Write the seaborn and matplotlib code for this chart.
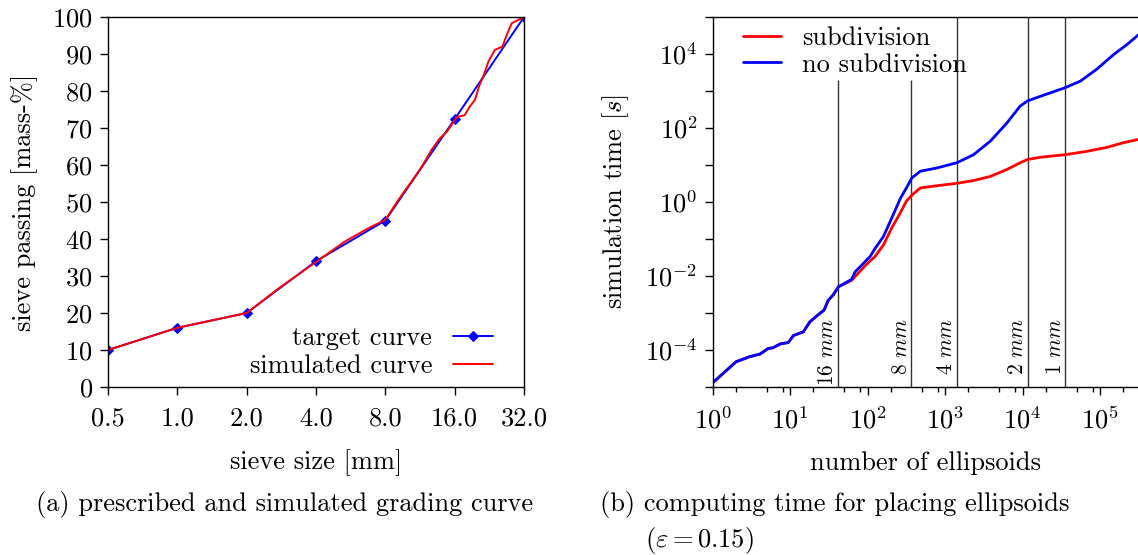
import numpy as np
import pandas as pd
import seaborn as sns
import matplotlib.pyplot as plt
from matplotlib.ticker import FixedLocator, FuncFormatter, LogLocator, NullFormatter

# Grading curve (left panel)
sieve_size = [0.5, 1.0, 2.0, 4.0, 8.0, 16.0, 32.0]
target_passing = [10, 16, 20, 34, 45, 72.4, 100]

sim_size = [0.5, 1.0, 2.0, 2.8, 4.0, 5.3, 6.7, 8.0, 8.9, 9.7, 10.5, 11.5, 12.7,
            13.8, 14.8, 15.5, 16.3, 17.7, 18.6, 19.6, 20.4, 21.4, 22.4, 23.9,
            25.8, 26.9, 28.3, 31.7, 32.0]
sim_passing = [10, 16, 20, 27, 33.8, 39.2, 42.8, 45.2, 49.6, 53, 55.9, 59.5, 64.1,
               67.2, 69.0, 70.8, 72.9, 73.5, 75.8, 77.6, 81.2, 84.3, 87.9, 91.1,
               92.0, 95.1, 98.3, 99.9, 100]

# Computing time (right panel)
n_nosub = [1, 2, 3, 4.1, 5.2, 6, 7.4, 9.5, 11, 14.8, 18, 22, 27.4, 31, 36, 42,
           62, 69, 93, 108, 125, 160, 205, 265, 320, 373, 480, 780, 1420, 2330,
           3830, 6300, 9300, 11600, 17000, 35500, 56000, 91000, 151000, 224000,
           310000]
t_nosub = [1.3e-5, 4.8e-5, 6.6e-5, 7.8e-5, 1.1e-4, 1.15e-4, 1.45e-4, 1.6e-4,
           2.45e-4, 3.1e-4, 5.8e-4, 8.3e-4, 1.2e-3, 2.2e-3, 3.1e-3, 5.1e-3,
           8.1e-3, 1.3e-2, 2.45e-2, 3.4e-2, 5.6e-2, 0.117, 0.37, 1.26, 2.5, 4.5,
           6.8, 8.3, 11.5, 19, 44, 138, 390, 540, 720, 1230, 1860, 3900, 9800,
           18200, 32400]

n_sub = [1, 2, 3, 4.1, 5.2, 6, 7.4, 9.5, 11, 14.8, 18, 22, 27.4, 31, 36, 42,
         62, 93, 125, 160, 205, 257, 316, 380, 480, 780, 1420, 2330, 3830, 6300,
         9300, 11600, 17000, 35500, 67600, 123000, 200000, 310000]
t_sub = [1.3e-5, 4.8e-5, 6.6e-5, 7.8e-5, 1.1e-4, 1.15e-4, 1.45e-4, 1.6e-4,
         2.45e-4, 3.1e-4, 5.8e-4, 8.3e-4, 1.2e-3, 2.2e-3, 3.1e-3, 5.1e-3,
         7.6e-3, 1.9e-2, 3.4e-2, 6.9e-2, 0.2, 0.46, 1.05, 1.6, 2.4, 2.75, 3.2,
         3.8, 4.9, 7.6, 11.5, 14.1, 16.2, 19, 23.4, 30, 40, 49]

# sieve sizes marked in the right panel
mark_labels = ['16', '8', '4', '2', '1']
mark_n = [41, 368, 1422, 11600, 35500]
mark_top = [2e3, 2e3, 1e5, 1e5, 1e5]

FS = 19

sns.set_theme(style='ticks')
plt.rcParams['font.family'] = 'serif'
plt.rcParams['font.serif'] = ['cmr10', 'DejaVu Serif']
plt.rcParams['mathtext.fontset'] = 'cm'
plt.rcParams['axes.formatter.use_mathtext'] = True
plt.rcParams['font.size'] = FS
plt.rcParams['axes.labelsize'] = FS
plt.rcParams['xtick.labelsize'] = FS
plt.rcParams['ytick.labelsize'] = FS
plt.rcParams['legend.fontsize'] = FS
plt.rcParams['axes.linewidth'] = 1.0
plt.rcParams['axes.edgecolor'] = 'black'
plt.rcParams['axes.labelcolor'] = 'black'
plt.rcParams['text.color'] = 'black'
plt.rcParams['xtick.color'] = 'black'
plt.rcParams['ytick.color'] = 'black'

fig = plt.figure(figsize=(11.38, 5.55), dpi=100)
ax1 = fig.add_axes([108 / 1138, 1 - 387 / 555, 416 / 1138, 370 / 555])
ax2 = fig.add_axes([712.7 / 1138, 1 - 387 / 555, 1 - 712.7 / 1138, 370 / 555])

# ---- left panel
grading = pd.DataFrame({'size': sieve_size, 'passing': target_passing})
simulated = pd.DataFrame({'size': sim_size, 'passing': sim_passing})
sns.lineplot(data=grading, x='size', y='passing', color='blue', lw=1.4,
             marker='D', markersize=5.5, markeredgecolor='blue',
             label='target curve', ax=ax1)
sns.lineplot(data=simulated, x='size', y='passing', color='red', lw=1.4,
             label='simulated curve', ax=ax1)
ax1.set_xscale('log', base=2)
ax1.set_xlim(0.5, 32)
ax1.set_ylim(0, 100)
ax1.xaxis.set_major_locator(FixedLocator(sieve_size))
ax1.xaxis.set_major_formatter(FuncFormatter(lambda v, p: f'{v:.1f}'))
ax1.xaxis.set_minor_locator(FixedLocator([]))
ax1.set_yticks(np.arange(0, 101, 10))
ax1.tick_params(axis='x', direction='out', length=6, width=1, pad=8)
ax1.tick_params(axis='y', direction='out', length=6, width=1, pad=5)
ax1.set_xlabel('sieve size [mm]', labelpad=14)
ax1.set_ylabel('sieve passing [mass-%]', labelpad=10)
ax1.legend(loc='lower right', bbox_to_anchor=(0.97, -0.025), frameon=False,
           markerfirst=False, handlelength=1.5, handletextpad=0.8,
           labelspacing=0.15, borderaxespad=0.3)

# ---- right panel
time_sub = pd.DataFrame({'n': n_sub, 't': t_sub})
time_nosub = pd.DataFrame({'n': n_nosub, 't': t_nosub})
sns.lineplot(data=time_sub, x='n', y='t', color='red', lw=2.0,
             label='subdivision', ax=ax2)
sns.lineplot(data=time_nosub, x='n', y='t', color='blue', lw=2.0,
             label='no subdivision', ax=ax2)
ax2.set_xscale('log')
ax2.set_yscale('log')
ax2.set_xlim(1, 10 ** 5.49)
ax2.set_ylim(1e-5, 1e5)
ax2.spines['right'].set_visible(False)

for lab, xv, top in zip(mark_labels, mark_n, mark_top):
    ax2.vlines(xv, 1e-5, top, color='#333333', lw=1.0, zorder=1)
    ax2.annotate(lab + ' $mm$', xy=(xv, 7.4e-4), xytext=(-0.5, 0),
                 textcoords='offset points', rotation=90,
                 ha='right', va='top', fontsize=15.5)

ax2.yaxis.set_major_locator(FixedLocator([10.0 ** k for k in range(-5, 6)]))
ax2.yaxis.set_major_formatter(FuncFormatter(
    lambda v, p: f'$10^{{{int(round(np.log10(v)))}}}$'
    if int(round(np.log10(v))) % 2 == 0 and -5 < np.log10(v) < 5 else ''))
ax2.yaxis.set_minor_locator(FixedLocator([]))
ax2.xaxis.set_major_locator(LogLocator(base=10, numticks=20))
ax2.xaxis.set_minor_locator(LogLocator(base=10, subs=(2, 5, 8), numticks=20))
ax2.xaxis.set_minor_formatter(NullFormatter())
ax2.tick_params(which='major', direction='out', length=6, width=1)
ax2.tick_params(axis='x', which='major', pad=8)
ax2.tick_params(axis='y', which='major', pad=5)
ax2.tick_params(which='minor', direction='out', length=3.5, width=1)
ax2.set_xlabel('number of ellipsoids', labelpad=13)
ax2.set_ylabel('simulation time [$s$]', labelpad=10)
ax2.legend(loc='upper left', bbox_to_anchor=(0.04, 1.01), frameon=False,
           handlelength=1.45, handletextpad=0.8, labelspacing=0.1,
           borderaxespad=0.1)

# captions
fig.text(285 / 1138, 1 - 505 / 555, '(a) prescribed and simulated grading curve',
         ha='center', va='center', fontsize=FS)
fig.text(600 / 1138, 1 - 505 / 555, '(b) computing time for placing ellipsoids',
         ha='left', va='center', fontsize=FS)
fig.text(645 / 1138, 1 - 540 / 555, r'$(\varepsilon = 0.15)$',
         ha='left', va='center', fontsize=FS)

fig.savefig('out.png', dpi=100)
